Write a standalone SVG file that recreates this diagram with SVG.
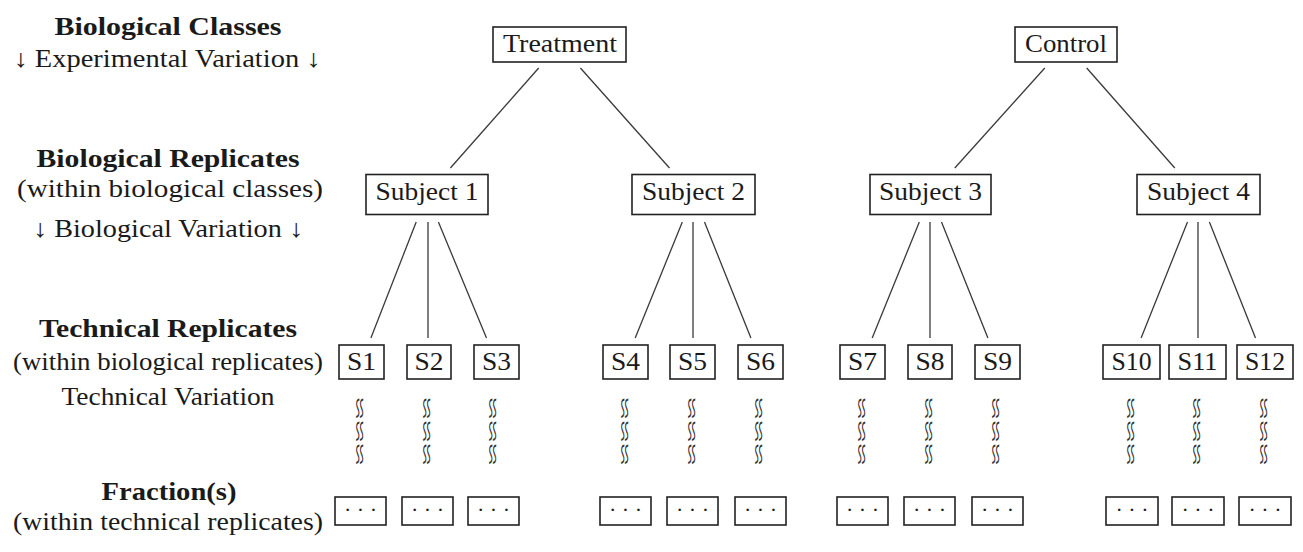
<svg xmlns="http://www.w3.org/2000/svg" width="1303" height="552" viewBox="0 0 1303 552">
  <style>
    text { font-family: 'Liberation Serif', serif; }
    .lbl { font-size: 25px; fill: #1a1a1a; text-anchor: middle; }
    .bold { font-weight: bold; }
    .box { fill: #ffffff; stroke: #222222; stroke-width: 1.6; }
    .edge { stroke: #3a3a3a; stroke-width: 1.3; fill: none; }
    .wr { font-size: 32px; fill: #333333; text-anchor: middle; }
    .dots { font-size: 22px; fill: #1a1a1a; text-anchor: middle; }
  </style>

  <!-- level captions on the left -->
  <g id="captions">
    <text class="lbl bold" x="168" y="35" textLength="227" lengthAdjust="spacingAndGlyphs">Biological Classes</text>
    <text class="lbl" x="167" y="67" textLength="307" lengthAdjust="spacingAndGlyphs">↓ Experimental Variation ↓</text>
    <text class="lbl bold" x="168" y="167" textLength="263" lengthAdjust="spacingAndGlyphs">Biological Replicates</text>
    <text class="lbl" x="170" y="197" textLength="306" lengthAdjust="spacingAndGlyphs">(within biological classes)</text>
    <text class="lbl" x="168" y="237" textLength="270" lengthAdjust="spacingAndGlyphs">↓ Biological Variation ↓</text>
    <text class="lbl bold" x="168" y="337" textLength="258" lengthAdjust="spacingAndGlyphs">Technical Replicates</text>
    <text class="lbl" x="168" y="370" textLength="310" lengthAdjust="spacingAndGlyphs">(within biological replicates)</text>
    <text class="lbl" x="168" y="405" textLength="213" lengthAdjust="spacingAndGlyphs">Technical Variation</text>
    <text class="lbl bold" x="169" y="500" textLength="135" lengthAdjust="spacingAndGlyphs">Fraction(s)</text>
    <text class="lbl" x="168" y="530" textLength="310" lengthAdjust="spacingAndGlyphs">(within technical replicates)</text>
  </g>

  <!-- tree edges -->
  <g id="connectors">
    <line class="edge" x1="538.7" y1="68" x2="450.4" y2="168"/>
    <line class="edge" x1="580.4" y1="68" x2="669.5" y2="168"/>
    <line class="edge" x1="1044.8" y1="68" x2="954.8" y2="168"/>
    <line class="edge" x1="1086.7" y1="68" x2="1174.8" y2="168"/>

    <line class="edge" x1="416.2" y1="222" x2="370.9" y2="338"/>
    <line class="edge" x1="428" y1="222" x2="428" y2="338"/>
    <line class="edge" x1="438.4" y1="222" x2="486.5" y2="338"/>

    <line class="edge" x1="682.3" y1="222" x2="635.2" y2="338"/>
    <line class="edge" x1="693" y1="222" x2="693" y2="338"/>
    <line class="edge" x1="704.5" y1="222" x2="750.9" y2="338"/>

    <line class="edge" x1="919.3" y1="222" x2="872.2" y2="338"/>
    <line class="edge" x1="930" y1="222" x2="930" y2="338"/>
    <line class="edge" x1="941.5" y1="222" x2="987.9" y2="338"/>

    <line class="edge" x1="1187.5" y1="222" x2="1141.1" y2="338"/>
    <line class="edge" x1="1198" y1="222" x2="1198" y2="338"/>
    <line class="edge" x1="1209.4" y1="222" x2="1255.5" y2="338"/>
  </g>

  <!-- biological classes -->
  <g id="treatment">
    <rect class="box" x="493" y="27" width="133" height="35"/>
    <text class="lbl" x="560" y="52" textLength="114" lengthAdjust="spacingAndGlyphs">Treatment</text>
  </g>
  <g id="control">
    <rect class="box" x="1015" y="27" width="102" height="35"/>
    <text class="lbl" x="1066" y="52" textLength="82" lengthAdjust="spacingAndGlyphs">Control</text>
  </g>

  <!-- subjects -->
  <g id="subject1">
    <rect class="box" x="366" y="174.5" width="122" height="40"/>
    <text class="lbl" x="427" y="200" textLength="103" lengthAdjust="spacingAndGlyphs">Subject 1</text>
  </g>
  <g id="subject2">
    <rect class="box" x="632" y="174.5" width="123" height="40"/>
    <text class="lbl" x="693.5" y="200" textLength="103" lengthAdjust="spacingAndGlyphs">Subject 2</text>
  </g>
  <g id="subject3">
    <rect class="box" x="870" y="174.5" width="121" height="40"/>
    <text class="lbl" x="930.5" y="200" textLength="103" lengthAdjust="spacingAndGlyphs">Subject 3</text>
  </g>
  <g id="subject4">
    <rect class="box" x="1137" y="174.5" width="123" height="40"/>
    <text class="lbl" x="1198.5" y="200" textLength="103" lengthAdjust="spacingAndGlyphs">Subject 4</text>
  </g>

  <!-- technical replicates -->
  <g id="s1"><rect class="box" x="339" y="345" width="45" height="34"/><text class="lbl" x="361.5" y="370" textLength="29" lengthAdjust="spacingAndGlyphs">S1</text></g>
  <g id="s2"><rect class="box" x="407" y="345" width="44" height="34"/><text class="lbl" x="429" y="370" textLength="29" lengthAdjust="spacingAndGlyphs">S2</text></g>
  <g id="s3"><rect class="box" x="474" y="345" width="45" height="34"/><text class="lbl" x="496.5" y="370" textLength="29" lengthAdjust="spacingAndGlyphs">S3</text></g>
  <g id="s4"><rect class="box" x="603" y="345" width="45" height="34"/><text class="lbl" x="625.5" y="370" textLength="29" lengthAdjust="spacingAndGlyphs">S4</text></g>
  <g id="s5"><rect class="box" x="670" y="345" width="45" height="34"/><text class="lbl" x="692.5" y="370" textLength="29" lengthAdjust="spacingAndGlyphs">S5</text></g>
  <g id="s6"><rect class="box" x="738" y="345" width="45" height="34"/><text class="lbl" x="760.5" y="370" textLength="29" lengthAdjust="spacingAndGlyphs">S6</text></g>
  <g id="s7"><rect class="box" x="840" y="345" width="45" height="34"/><text class="lbl" x="862.5" y="370" textLength="29" lengthAdjust="spacingAndGlyphs">S7</text></g>
  <g id="s8"><rect class="box" x="908" y="345" width="44" height="34"/><text class="lbl" x="930" y="370" textLength="29" lengthAdjust="spacingAndGlyphs">S8</text></g>
  <g id="s9"><rect class="box" x="975" y="345" width="45" height="34"/><text class="lbl" x="997.5" y="370" textLength="29" lengthAdjust="spacingAndGlyphs">S9</text></g>
  <g id="s10"><rect class="box" x="1103" y="345" width="57" height="34"/><text class="lbl" x="1131.5" y="370" textLength="40" lengthAdjust="spacingAndGlyphs">S10</text></g>
  <g id="s11"><rect class="box" x="1169" y="345" width="57" height="34"/><text class="lbl" x="1197.5" y="370" textLength="40" lengthAdjust="spacingAndGlyphs">S11</text></g>
  <g id="s12"><rect class="box" x="1237" y="345" width="56" height="34"/><text class="lbl" x="1265" y="370" textLength="40" lengthAdjust="spacingAndGlyphs">S12</text></g>

  <!-- technical variation marks: three upright wavy pairs per replicate -->
  <defs>
    <g id="wrstack">
      <text class="wr" x="0" y="8.5" transform="translate(0,408.5) rotate(90) scale(1.25,-0.6)">≈</text>
      <text class="wr" x="0" y="8.5" transform="translate(0,431.5) rotate(90) scale(1.25,-0.6)">≈</text>
      <text class="wr" x="0" y="8.5" transform="translate(0,454.5) rotate(90) scale(1.25,-0.6)">≈</text>
    </g>
  </defs>
  <g id="variation">
    <use href="#wrstack" x="361"/>
    <use href="#wrstack" x="428"/>
    <use href="#wrstack" x="494"/>
    <use href="#wrstack" x="626"/>
    <use href="#wrstack" x="692.5"/>
    <use href="#wrstack" x="760"/>
    <use href="#wrstack" x="863"/>
    <use href="#wrstack" x="930"/>
    <use href="#wrstack" x="997"/>
    <use href="#wrstack" x="1132"/>
    <use href="#wrstack" x="1198"/>
    <use href="#wrstack" x="1265"/>
  </g>

  <!-- fractions -->
  <g id="f1"><rect class="box" x="335" y="497" width="51" height="28"/><text class="dots" x="360.5" y="517">· · ·</text></g>
  <g id="f2"><rect class="box" x="402" y="497" width="51" height="28"/><text class="dots" x="427.5" y="517">· · ·</text></g>
  <g id="f3"><rect class="box" x="468" y="497" width="51" height="28"/><text class="dots" x="493.5" y="517">· · ·</text></g>
  <g id="f4"><rect class="box" x="600" y="497" width="51" height="28"/><text class="dots" x="625.5" y="517">· · ·</text></g>
  <g id="f5"><rect class="box" x="667" y="497" width="51" height="28"/><text class="dots" x="692.5" y="517">· · ·</text></g>
  <g id="f6"><rect class="box" x="735" y="497" width="51" height="28"/><text class="dots" x="760.5" y="517">· · ·</text></g>
  <g id="f7"><rect class="box" x="837" y="497" width="51" height="28"/><text class="dots" x="862.5" y="517">· · ·</text></g>
  <g id="f8"><rect class="box" x="904" y="497" width="51" height="28"/><text class="dots" x="929.5" y="517">· · ·</text></g>
  <g id="f9"><rect class="box" x="972" y="497" width="51" height="28"/><text class="dots" x="997.5" y="517">· · ·</text></g>
  <g id="f10"><rect class="box" x="1106" y="497" width="52" height="28"/><text class="dots" x="1132" y="517">· · ·</text></g>
  <g id="f11"><rect class="box" x="1172" y="497" width="52" height="28"/><text class="dots" x="1198" y="517">· · ·</text></g>
  <g id="f12"><rect class="box" x="1239" y="497" width="52" height="28"/><text class="dots" x="1265" y="517">· · ·</text></g>
</svg>
